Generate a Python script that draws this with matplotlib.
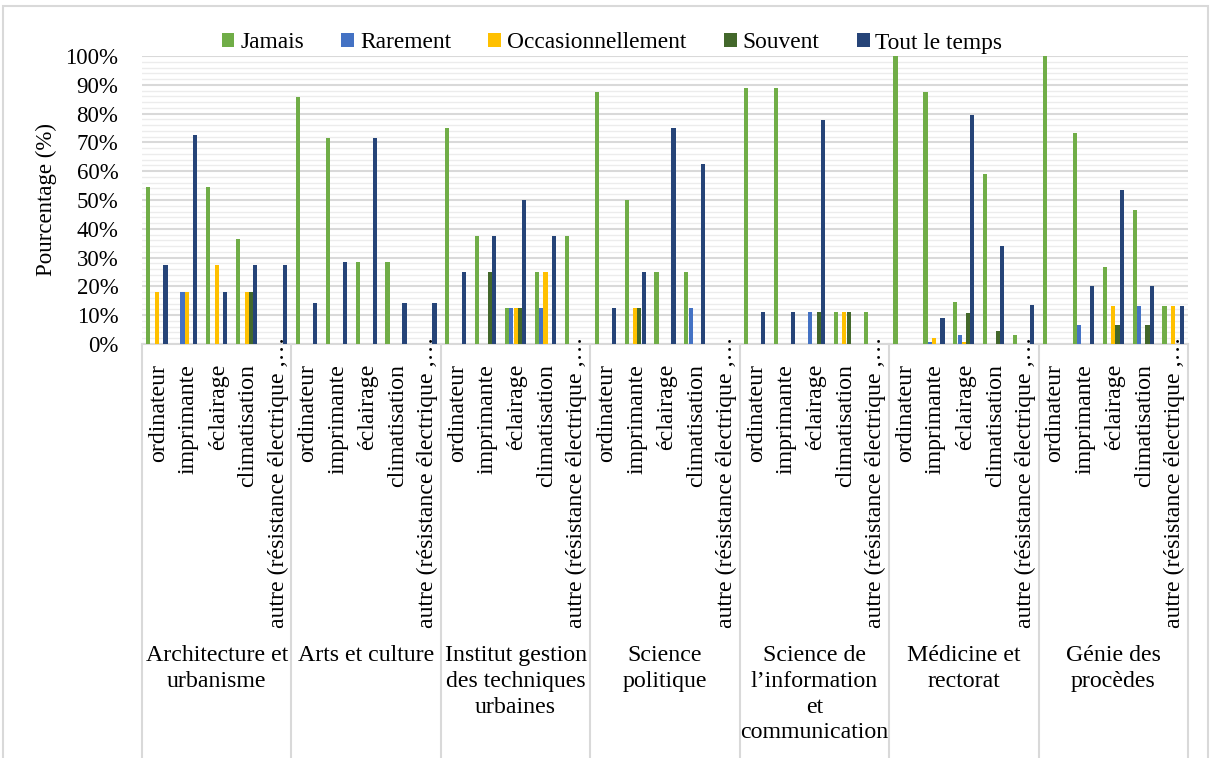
import numpy as np
import matplotlib
matplotlib.use("Agg")
import matplotlib.pyplot as plt
from matplotlib.patches import Patch, Rectangle
from matplotlib.lines import Line2D
import matplotlib.transforms as mtransforms
from matplotlib.ticker import MultipleLocator, FuncFormatter

plt.rcParams['font.family'] = ['Liberation Serif', 'DejaVu Serif']

groups = ["Architecture et\nurbanisme", "Arts et culture",
          "Institut gestion\ndes techniques\nurbaines", "Science\npolitique",
          "Science de\nl\u2019information\net\ncommunication", "Médicine et\nrectorat",
          "Génie des\nprocèdes"]
equipment = ["ordinateur", "imprimante", "éclairage", "climatisation",
             "autre (résistance électrique ,\u2026"]

series_names = ["Jamais", "Rarement", "Occasionnellement", "Souvent", "Tout le temps"]
colors = ["#70AD47", "#4472C4", "#FFC000", "#43682B", "#264478"]

jamais = [54.5, 0, 54.5, 36.4, 0,
          85.7, 71.4, 28.6, 28.6, 0,
          75, 37.5, 12.5, 25, 37.5,
          87.5, 50, 25, 25, 0,
          88.9, 88.9, 0, 11.1, 11.1,
          100, 87.5, 14.6, 59.0, 3.2,
          100, 73.3, 26.7, 46.7, 13.3]
rarement = [0, 18.2, 0, 0, 0,
            0, 0, 0, 0, 0,
            0, 0, 12.5, 12.5, 0,
            0, 0, 0, 12.5, 0,
            0, 0, 11.1, 0, 0,
            0, 0.8, 3.2, 0, 0,
            0, 6.7, 0, 13.3, 0]
occasionnellement = [18.2, 18.2, 27.3, 18.2, 0,
                     0, 0, 0, 0, 0,
                     0, 0, 12.5, 25, 0,
                     0, 12.5, 0, 0, 0,
                     0, 0, 0, 11.1, 0,
                     0, 2.1, 0.8, 0, 0,
                     0, 0, 13.3, 0, 13.3]
souvent = [0, 0, 0, 18.2, 0,
           0, 0, 0, 0, 0,
           0, 25, 12.5, 0, 0,
           0, 12.5, 0, 0, 0,
           0, 0, 11.1, 11.1, 0,
           0, 0, 10.9, 4.4, 0,
           0, 0, 6.7, 6.7, 0]
tout_le_temps = [27.3, 72.7, 18.2, 27.3, 27.3,
                 14.3, 28.6, 71.4, 14.3, 14.3,
                 25, 37.5, 50, 37.5, 0,
                 12.5, 25, 75, 62.5, 0,
                 11.1, 11.1, 77.8, 0, 0,
                 0, 8.9, 79.4, 33.9, 13.4,
                 0, 20, 53.3, 20, 13.3]

series = [jamais, rarement, occasionnellement, souvent, tout_le_temps]

W, H = 1216, 758
fig = plt.figure(figsize=(W / 100, H / 100), dpi=100)
ax = fig.add_axes([142 / W, 1 - 344 / H, (1188 - 142) / W, (344 - 56) / H])

n_cat = len(groups) * len(equipment)
x = np.arange(n_cat)
bw = 1 / 7
for i, (vals, name, c) in enumerate(zip(series, series_names, colors)):
    ax.bar(x + (i - 2) * bw, vals, width=bw * 0.97, color=c, label=name, zorder=3)

ax.set_xlim(-0.5, n_cat - 0.5)
ax.set_ylim(0, 100)
ax.yaxis.set_major_locator(MultipleLocator(10))
ax.yaxis.set_minor_locator(MultipleLocator(2))
ax.yaxis.set_major_formatter(FuncFormatter(lambda v, p: f"{v:.0f}%"))
ax.grid(axis='y', which='minor', color='#ececec', lw=1.0, zorder=0)
ax.grid(axis='y', which='major', color='#d9d9d9', lw=1.5, zorder=1)
ax.tick_params(axis='y', which='both', length=0, pad=17, labelsize=16.5)
ax.tick_params(axis='x', which='both', length=0, labelbottom=False)
ax.set_xticks([])
for s in ['top', 'right', 'left']:
    ax.spines[s].set_visible(False)
ax.spines['bottom'].set_color('#d9d9d9')
ax.spines['bottom'].set_linewidth(1.5)

ax.set_ylabel("Pourcentage (%)", fontsize=16.5)
ax.yaxis.set_label_coords(-0.0815, 0.5)

trans = mtransforms.blended_transform_factory(ax.transData, ax.transAxes)
px = 1 / 288.0  # one pixel in axes-y units
lab_fs = 17.2

# category labels
for k in range(n_cat):
    j = k % len(equipment)
    if j == len(equipment) - 1:
        ax.text(k + 0.05, -(628 - 344) * px, equipment[j], rotation=90, ha='center',
                va='bottom', fontsize=lab_fs, transform=trans, clip_on=False)
    else:
        ax.text(k + 0.05, -(364 - 344) * px, equipment[j], rotation=90, ha='center',
                va='top', fontsize=lab_fs, transform=trans, clip_on=False)

# group labels
ng = len(equipment)
for g, name in enumerate(groups):
    ax.text(g * ng + (ng - 1) / 2, -(645 - 344) * px, name, ha='center', va='top',
            multialignment='center', fontsize=lab_fs, linespacing=1.3,
            transform=trans, clip_on=False)

# group separators
for b in np.arange(len(groups) + 1) * ng - 0.5:
    ax.add_line(Line2D([b, b], [0, -(H - 344 + 5) * px], color='#d9d9d9', lw=1.5,
                       transform=trans, clip_on=False))

# outer border of the chart
fig.add_artist(Rectangle((3 / W, -0.01), (1208 - 3) / W, 1 - 6 / H + 0.01,
                         transform=fig.transFigure, fill=False,
                         edgecolor='#d9d9d9', lw=1.5))

handles = [Patch(facecolor=c, edgecolor='none') for c in colors]
fig.legend(handles, series_names, loc='center', bbox_to_anchor=(612 / W, 1 - 43 / H),
           ncol=5, frameon=False, fontsize=16.8, handlelength=0.55, handleheight=0.55,
           handletextpad=0.25, columnspacing=1.6, borderaxespad=0)

fig.savefig("out.png", dpi=100)
